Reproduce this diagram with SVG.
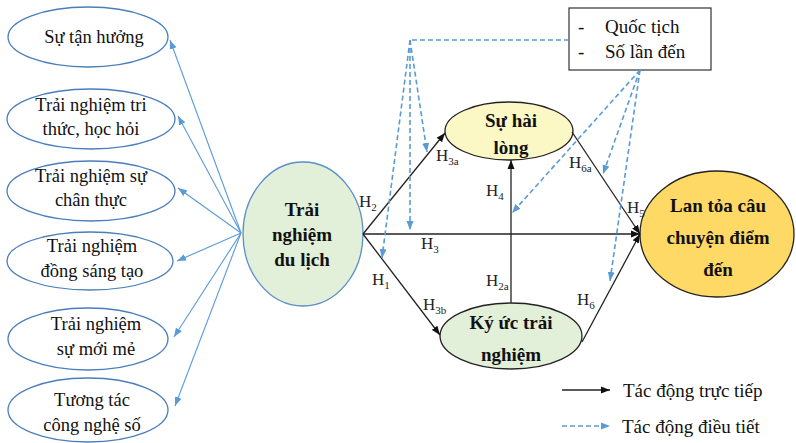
<svg xmlns="http://www.w3.org/2000/svg" width="796" height="443" viewBox="0 0 796 443">
  <defs>
    <marker id="arrBlack" markerUnits="userSpaceOnUse" markerWidth="9" markerHeight="8" refX="9" refY="4" orient="auto">
      <path d="M0,0.5 L9,4 L0,7.5 z" fill="#111"/>
    </marker>
    <marker id="arrBlue" markerUnits="userSpaceOnUse" markerWidth="9" markerHeight="8" refX="9" refY="4" orient="auto">
      <path d="M0,0.5 L9,4 L0,7.5 z" fill="#5b9bd5"/>
    </marker>
    <style>
      .dim { fill: #ffffff; stroke: #4a7ebb; stroke-width: 1.3; }
      .txt { font-family: "Liberation Serif", "Times New Roman", serif; font-size: 18.5px; fill: #111; text-anchor: middle; }
      .bold { font-family: "Liberation Serif", "Times New Roman", serif; font-size: 19px; font-weight: bold; fill: #111; text-anchor: middle; }
      .hl { font-family: "Liberation Serif", "Times New Roman", serif; font-size: 17px; fill: #222; }
      .sub { font-size: 11px; }
      .direct { stroke: #222; stroke-width: 1.3; fill: none; marker-end: url(#arrBlack); }
      .fan { stroke: #5b9bd5; stroke-width: 1.1; fill: none; marker-end: url(#arrBlue); }
      .mod { stroke: #5b9bd5; stroke-width: 1.6; stroke-dasharray: 5 3; fill: none; }
      .modA { stroke: #5b9bd5; stroke-width: 1.6; stroke-dasharray: 5 3; fill: none; marker-end: url(#arrBlue); }
      .legend { font-family: "Liberation Serif", "Times New Roman", serif; font-size: 19px; fill: #111; }
    </style>
  </defs>

  <rect width="796" height="443" fill="#ffffff"/>

  <!-- experience dimensions -->
  <g id="dim-enjoyment">
    <ellipse class="dim" cx="88" cy="37" rx="80" ry="30"/>
    <text class="txt" x="94" y="43">Sự tận hưởng</text>
  </g>
  <g id="dim-learning">
    <ellipse class="dim" cx="91" cy="119" rx="84" ry="30"/>
    <text class="txt" x="91" y="111">Trải nghiệm tri</text>
    <text class="txt" x="91" y="135">thức, học hỏi</text>
  </g>
  <g id="dim-authenticity">
    <ellipse class="dim" cx="91" cy="191" rx="84" ry="30"/>
    <text class="txt" x="91" y="182">Trải nghiệm sự</text>
    <text class="txt" x="91" y="206">chân thực</text>
  </g>
  <g id="dim-cocreation">
    <ellipse class="dim" cx="90" cy="261" rx="83" ry="29"/>
    <text class="txt" x="92" y="252">Trải nghiệm</text>
    <text class="txt" x="92" y="277">đồng sáng tạo</text>
  </g>
  <g id="dim-novelty">
    <ellipse class="dim" cx="88" cy="339" rx="80" ry="31"/>
    <text class="txt" x="96" y="330">Trải nghiệm</text>
    <text class="txt" x="96" y="355">sự mới mẻ</text>
  </g>
  <g id="dim-digital">
    <ellipse class="dim" cx="88" cy="410" rx="80" ry="32"/>
    <text class="txt" x="92" y="406">Tương tác</text>
    <text class="txt" x="92" y="431">công nghệ số</text>
  </g>

  <!-- constructs -->
  <g id="travel-experience">
    <ellipse cx="303" cy="234" rx="60" ry="72" fill="#e2efd9" stroke="#5b8fc7" stroke-width="1.3"/>
    <text class="bold" x="302" y="216">Trải</text>
    <text class="bold" x="302" y="241">nghiệm</text>
    <text class="bold" x="302" y="266">du lịch</text>
  </g>
  <g id="satisfaction">
    <ellipse cx="509" cy="131" rx="64" ry="29" fill="#fcf8c5" stroke="#222" stroke-width="1.3"/>
    <text class="bold" x="511" y="127">Sự hài</text>
    <text class="bold" x="511" y="154">lòng</text>
  </g>
  <g id="memory">
    <ellipse cx="511" cy="336" rx="71" ry="33" fill="#e2efd9" stroke="#222" stroke-width="1.3"/>
    <text class="bold" x="511" y="329">Ký ức trải</text>
    <text class="bold" x="511" y="361">nghiệm</text>
  </g>
  <g id="storytelling">
    <ellipse cx="717" cy="234" rx="77" ry="63" fill="#ffd966" stroke="#222" stroke-width="1.3"/>
    <text class="bold" x="718" y="212">Lan tỏa câu</text>
    <text class="bold" x="718" y="244">chuyện điểm</text>
    <text class="bold" x="718" y="276">đến</text>
  </g>
  <g id="moderators">
    <rect x="569" y="8" width="142" height="62" fill="#ffffff" stroke="#333" stroke-width="1.2"/>
    <text class="legend" x="578" y="33">-</text>
    <text class="legend" x="605" y="33">Quốc tịch</text>
    <text class="legend" x="578" y="58">-</text>
    <text class="legend" x="605" y="58">Số lần đến</text>
  </g>

  <!-- connectors -->
  <g id="connectors">
    <!-- dimensions of travel experience -->
    <line class="fan" x1="241" y1="233" x2="170" y2="40"/>
    <line class="fan" x1="241" y1="233" x2="178" y2="116"/>
    <line class="fan" x1="241" y1="233" x2="178" y2="188"/>
    <line class="fan" x1="241" y1="233" x2="177" y2="261"/>
    <line class="fan" x1="241" y1="233" x2="174" y2="337"/>
    <line class="fan" x1="241" y1="233" x2="175" y2="406"/>

    <!-- direct effects -->
    <line class="direct" x1="363" y1="234" x2="445" y2="133"/>
    <line class="direct" x1="363" y1="234" x2="640" y2="234"/>
    <line class="direct" x1="363" y1="234" x2="440" y2="335"/>
    <line class="direct" x1="511" y1="303" x2="511" y2="160"/>
    <line class="direct" x1="572" y1="132" x2="640" y2="234"/>
    <line class="direct" x1="582" y1="342" x2="640" y2="234"/>

    <!-- moderating effects -->
    <polyline class="mod" points="569,40 410,40"/>
    <line class="modA" x1="410" y1="40" x2="382" y2="258"/>
    <line class="modA" x1="410" y1="40" x2="410" y2="230"/>
    <line class="modA" x1="410" y1="40" x2="427" y2="152"/>
    <line class="modA" x1="640" y1="70" x2="512" y2="213"/>
    <line class="modA" x1="640" y1="70" x2="603" y2="174"/>
    <line class="modA" x1="640" y1="70" x2="610" y2="281"/>

    <!-- hypothesis labels -->
    <text class="hl" x="359" y="207">H<tspan class="sub" dy="4">2</tspan></text>
    <text class="hl" x="436" y="161">H<tspan class="sub" dy="4">3a</tspan></text>
    <text class="hl" x="486" y="196">H<tspan class="sub" dy="4">4</tspan></text>
    <text class="hl" x="421" y="249">H<tspan class="sub" dy="4">3</tspan></text>
    <text class="hl" x="372" y="285">H<tspan class="sub" dy="4">1</tspan></text>
    <text class="hl" x="486" y="286">H<tspan class="sub" dy="4">2a</tspan></text>
    <text class="hl" x="423" y="310">H<tspan class="sub" dy="4">3b</tspan></text>
    <text class="hl" x="569" y="168">H<tspan class="sub" dy="4">6a</tspan></text>
    <text class="hl" x="627" y="213">H<tspan class="sub" dy="4">5</tspan></text>
    <text class="hl" x="577" y="305">H<tspan class="sub" dy="4">6</tspan></text>
  </g>

  <!-- legend -->
  <g id="legend">
    <line class="direct" x1="562" y1="390" x2="610" y2="390"/>
    <text class="legend" x="623" y="397">Tác động trực tiếp</text>
    <line class="modA" x1="562" y1="426" x2="610" y2="426"/>
    <text class="legend" x="622" y="433">Tác động điều tiết</text>
  </g>
</svg>
